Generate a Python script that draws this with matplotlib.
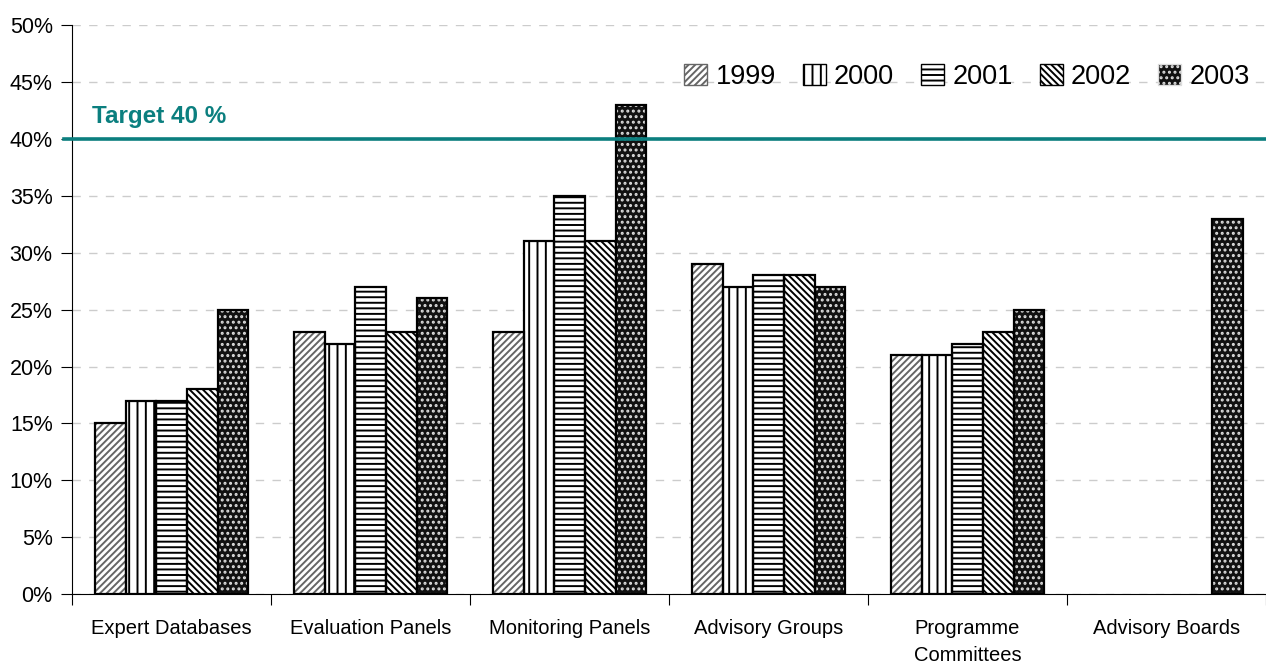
import matplotlib
matplotlib.use("Agg")
import matplotlib.pyplot as plt
import numpy as np
from matplotlib.patches import Patch

plt.rcParams['font.family'] = ['Liberation Sans', 'DejaVu Sans']
plt.rcParams['hatch.linewidth'] = 1.4

categories = ["Expert Databases", "Evaluation Panels", "Monitoring Panels",
              "Advisory Groups", "Programme\nCommittees", "Advisory Boards"]
years = ["1999", "2000", "2001", "2002", "2003"]
v1999 = [15, 23, 23, 29, 21, np.nan]
v2000 = [17, 22, 31, 27, 21, np.nan]
v2001 = [17, 27, 35, 28, 22, np.nan]
v2002 = [18, 23, 31, 28, 23, np.nan]
v2003 = [25, 26, 43, 27, 25, 33]
series = [v1999, v2000, v2001, v2002, v2003]
target = 40

# style per year: facecolor, hatch, hatch colour
styles = [("white", "/////", "#666666"),
          ("white", "||", "black"),
          ("white", "---", "black"),
          ("white", "\\\\\\\\\\", "black"),
          ("#111111", "...", "#dddddd")]

fig = plt.figure(figsize=(12.66, 6.63), dpi=100)
ax = fig.add_axes([0.057, 0.104, 0.943, 0.858])

x = np.arange(len(categories)) + 0.5
w = 0.154
handles = []
for j, vals in enumerate(series):
    fc, hatch, hc = styles[j]
    xs = x + (j - 2) * w
    ax.bar(xs, vals, w, color=fc, hatch=hatch, edgecolor=hc, linewidth=0, zorder=2)
    ax.bar(xs, vals, w, fill=False, edgecolor="black", linewidth=1.6, zorder=3)
    handles.append(Patch(facecolor=fc, hatch=hatch, edgecolor=hc, label=years[j]))

ax.set_xlim(0, 6)
ax.set_ylim(0, 50)
ax.set_yticks(np.arange(0, 51, 5))
ax.set_yticklabels([f"{v}%" for v in range(0, 51, 5)], fontsize=15.5)
ax.yaxis.grid(True, linestyle=(0, (6, 6)), color="#cccccc", linewidth=1, zorder=0)
ax.set_axisbelow(True)

ax.set_xticks(np.arange(0, 7))
ax.set_xticklabels([])
ax.set_xticks(x, minor=True)
ax.set_xticklabels(categories, minor=True, fontsize=14.5, va="top", linespacing=1.5)
ax.tick_params(axis="x", which="major", length=8, direction="out")
ax.tick_params(axis="x", which="minor", length=0, pad=18)
ax.tick_params(axis="y", length=8, direction="out", pad=6)

for s in ["top", "right"]:
    ax.spines[s].set_visible(False)

ax.plot([-0.04, 6], [target, target], color="#0b7f7f", linewidth=2.6, clip_on=False, zorder=4)
ax.text(0.1, 41.0, "Target 40 %", color="#0b7f7f", fontsize=17.5, fontweight="bold", va="bottom")

leg = ax.legend(handles=handles, loc="upper right", ncol=5, frameon=False, fontsize=19.5,
                bbox_to_anchor=(1.0, 0.961), borderaxespad=0.2, handlelength=0.85,
                handleheight=0.85, handletextpad=0.3, columnspacing=1.0)

fig.savefig("out.png", dpi=100)
